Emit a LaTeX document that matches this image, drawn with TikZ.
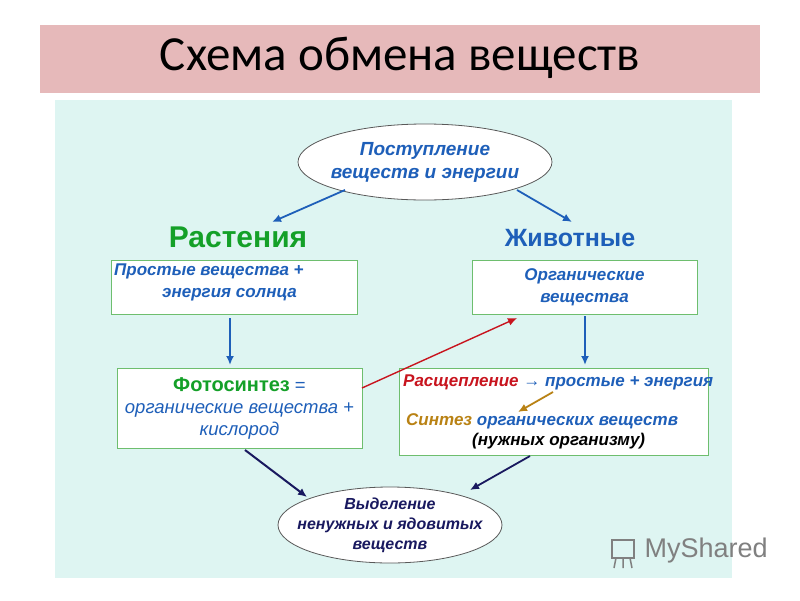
\documentclass[tikz,border=0pt]{standalone}
\usepackage{fontspec}
\setmainfont{Liberation Sans}
\newfontfamily\titlefont{Carlito}
\usetikzlibrary{shapes.geometric,arrows.meta}
\definecolor{tblue}{RGB}{30,95,185}
\definecolor{tgreen}{RGB}{20,160,40}
\definecolor{tred}{RGB}{200,20,30}
\definecolor{tgold}{RGB}{185,130,20}
\definecolor{tnavy}{RGB}{25,25,95}
\definecolor{bgc}{RGB}{222,245,242}
\definecolor{pinkc}{RGB}{230,185,186}
\definecolor{boxc}{RGB}{110,190,110}
\tikzset{
 box/.style={draw=boxc,fill=white,line width=0.8pt},
 ell/.style={ellipse,draw=gray!70!black,fill=white,line width=0.8pt,inner sep=0pt},
 arr/.style={-{Latex[length=9pt,width=8pt]},line width=1.8pt},
 txt/.style={font=\fontsize{19}{23}\selectfont\bfseries\itshape,text=tblue,align=center},
}
\begin{document}
\begin{tikzpicture}[x=1pt,y=-1pt]
\useasboundingbox (0,0) rectangle (800,600);
\fill[white] (0,0) rectangle (800,600);
\fill[pinkc] (40,25) rectangle (760,93);
\node (title) at (400,58) {\titlefont\fontsize{49}{52}\selectfont Схема обмена веществ};
\fill[bgc] (55,100) rectangle (732,578);
\node[ell,minimum width=254,minimum height=76] (top) at (425,162) {};
\node[txt] at (top) {Поступление\\веществ и энергии};
\node[font=\fontsize{30}{32}\selectfont\bfseries,text=tgreen] (plants) at (238,237) {Растения};
\node[font=\fontsize{25}{28}\selectfont\bfseries,text=tblue] (anim) at (570,238) {Животные};
\node[box,minimum width=246,minimum height=54] (b1) at (234,287) {};
\node[txt,font=\fontsize{17}{22}\selectfont\bfseries\itshape,align=left,anchor=north west,inner sep=0] at (114,264) {Простые вещества +\\\hspace{48pt}энергия солнца};
\node[box,minimum width=225,minimum height=54] (b2) at (584.5,287) {};
\node[txt,font=\fontsize{17}{22}\selectfont\bfseries\itshape] at (b2) {Органические\\вещества};
\node[box,minimum width=245,minimum height=80] (b3) at (239.5,408) {};
\node[align=center,text=tblue,font=\fontsize{18.5}{22}\selectfont\itshape] at (b3) {{\upshape\bfseries\fontsize{20}{22}\selectfont\color{tgreen}Фотосинтез} {\upshape =}\\органические вещества +\\кислород};
\node[box,minimum width=309,minimum height=87] (b4) at (553.5,411.5) {};
\node[anchor=north west,font=\fontsize{17}{19}\selectfont\bfseries\itshape,text=tblue,inner sep=0] at (403,375) {{\color{tred}Расщепление} {\upshape\color{tblue}→} простые + энергия};
\node[anchor=north west,font=\fontsize{17}{19}\selectfont\bfseries\itshape,text=tblue,inner sep=0] at (406,413) {{\color{tgold}Синтез} органических веществ};
\node[anchor=north west,font=\fontsize{17}{19}\selectfont\bfseries\itshape,text=black,inner sep=0] at (472,433) {(нужных организму)};
\node[ell,minimum width=224,minimum height=76] (bot) at (390,525) {};
\node[txt,text=tnavy,font=\fontsize{16}{20}\selectfont\bfseries\itshape] at (bot) {Выделение\\ненужных и ядовитых\\веществ};
\coordinate (s1) at (345,190); \coordinate (e1) at (272,222);
\coordinate (s2) at (517,190); \coordinate (e2) at (572,222);
\draw[arr,tblue] (s1) -- (e1);
\draw[arr,tblue] (s2) -- (e2);
\draw[arr,tblue] (230,318) -- (230,365);
\draw[arr,tblue] (585,316) -- (585,365);
\draw[arr,tred,line width=1.4pt] (362,388) -- (517,318);
\draw[arr,tgold,line width=1.8pt] (553,392) -- (518,412);
\draw[arr,tnavy,line width=2pt] (245,450) -- (307,497);
\draw[arr,tnavy] (530,456) -- (470,490);
\node[text=gray,font=\fontsize{27}{30}\selectfont,anchor=west] (ms) at (641,551) {MyShared};
\draw[gray,line width=1.5pt] (612,540) rectangle (634,558);
\draw[gray,line width=1.5pt] (616,558) -- (614,568) (630,558) -- (632,568) (623,558)--(623,568);
\end{tikzpicture}
\end{document}
